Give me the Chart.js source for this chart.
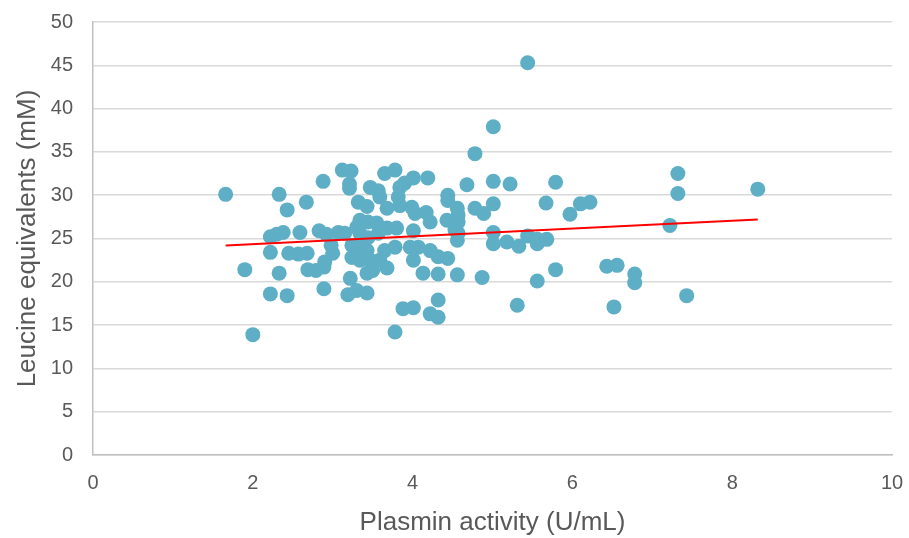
<!DOCTYPE html>
<html lang="en">
<head>
<meta charset="UTF-8">
<title>Plasmin activity vs leucine equivalents</title>
<script src="https://cdn.jsdelivr.net/npm/chart.js@4.4.1/dist/chart.umd.min.js"></script>
<style>
    body{
        margin: 0;
        background: white;
    }
    .divGrafico{
        width: 909px;
        height: 538px;
        position: relative;
    }
</style>
</head>
<body>
<div class="divGrafico">
    <canvas id="grafico"></canvas>
</div>
<script>
// plasmin activity (U/mL) and leucine equivalents (mM), one pair per sample
const plasmin = [
    1.66, 1.90, 2.00, 2.22, 2.22, 2.22, 2.30, 2.33, 2.33, 2.38,
    2.43, 2.43, 2.45, 2.57, 2.59, 2.67, 2.68, 2.69, 2.79, 2.83,
    2.88, 2.89, 2.89, 2.90, 2.92, 2.98, 3.00, 3.07, 3.12, 3.15,
    3.19, 3.21, 3.21, 3.23, 3.22, 3.24, 3.24, 3.30, 3.30, 3.32,
    3.34, 3.34, 3.34, 3.34, 3.43, 3.44, 3.44, 3.43, 3.43, 3.43,
    3.47, 3.47, 3.50, 3.55, 3.57, 3.57, 3.59, 3.59, 3.65, 3.65,
    3.68, 3.68, 3.68, 3.78, 3.78, 3.78, 3.80, 3.82, 3.84, 3.84,
    3.88, 3.90, 3.97, 3.99, 4.01, 4.01, 4.01, 4.01, 4.03, 4.07,
    4.13, 4.17, 4.19, 4.22, 4.22, 4.22, 4.32, 4.32, 4.32, 4.32,
    4.44, 4.44, 4.43, 4.44, 4.56, 4.57, 4.57, 4.53, 4.57, 4.56,
    4.56, 4.68, 4.78, 4.78, 4.87, 4.89, 5.01, 5.01, 5.01, 5.01,
    5.01, 5.18, 5.22, 5.31, 5.33, 5.44, 5.44, 5.56, 5.56, 5.56,
    5.67, 5.68, 5.79, 5.79, 5.97, 6.10, 6.22, 6.43, 6.56, 6.52,
    6.78, 6.78, 7.22, 7.32, 7.32, 7.43, 8.32
];
const leucine = [
    30.1, 21.4, 13.9, 25.2, 23.4, 18.6, 25.5, 30.1, 21.0, 25.7,
    28.3, 18.4, 23.3, 23.2, 25.7, 29.2, 23.3, 21.4, 21.3, 25.9,
    31.6, 21.7, 19.2, 22.3, 25.5, 24.2, 23.3, 25.7, 32.9, 25.6,
    18.5, 31.3, 30.8, 32.8, 20.4, 24.2, 22.8, 26.3, 19.0, 29.2,
    27.1, 25.6, 24.0, 22.5, 28.7, 26.9, 25.1, 23.6, 21.0, 18.7,
    30.9, 22.5, 21.3, 26.8, 30.5, 25.6, 29.8, 22.5, 32.5, 23.6,
    28.5, 26.2, 21.6, 32.9, 24.0, 14.2, 26.2, 29.8, 30.9, 28.8,
    16.9, 31.4, 24.0, 28.6, 32.0, 25.9, 22.5, 17.0, 27.9, 24.0,
    21.0, 28.0, 32.0, 26.9, 23.6, 16.3, 22.9, 20.9, 17.9, 15.9,
    30.0, 29.4, 27.1, 22.7, 28.5, 27.7, 26.9, 26.0, 25.6, 24.8,
    20.8, 31.2, 34.8, 28.5, 20.5, 27.9, 37.9, 31.6, 29.0, 25.7,
    24.4, 24.6, 31.3, 17.3, 24.1, 45.3, 25.3, 24.4, 24.9, 20.1,
    29.1, 24.9, 31.5, 21.4, 27.8, 29.0, 29.2, 21.8, 21.9, 17.1,
    20.9, 19.9, 26.5, 32.5, 30.2, 18.4, 30.7
];

// linear trendline at its two ends
const trendX = [1.66, 8.32];
const trendY = [24.2, 27.2];

const xTicks = [0, 2, 4, 6, 8, 10];
const yTicks = [0, 5, 10, 15, 20, 25, 30, 35, 40, 45, 50];

const pontos = plasmin.map((x, i) => ({x: x, y: leucine[i]}));
const tendencia = trendX.map((x, i) => ({x: x, y: trendY[i]}));

const fonte = 'Liberation Sans, Arial, sans-serif';
const cinza = '#595959';

let ctx = document.getElementById('grafico');

let grafico = new Chart(ctx, {
    type: 'scatter',
    data: {
        datasets: [{
            type: 'line',
            data: tendencia,
            borderColor: '#ff0000',
            borderWidth: 2,
            pointRadius: 0,
            fill: false
        }, {
            data: pontos,
            backgroundColor: '#5eafc6',
            borderWidth: 0,
            pointRadius: 7.5,
            pointHoverRadius: 7.5
        }]
    },
    options: {
        responsive: true,
        maintainAspectRatio: false,
        animation: false,
        layout: {
            padding: {left: 0, right: 17, top: 22, bottom: 0}
        },
        plugins: {
            legend: {display: false},
            tooltip: {enabled: false}
        },
        scales: {
            x: {
                type: 'linear',
                min: 0,
                max: 10,
                afterBuildTicks: (s) => { s.ticks = xTicks.map(v => ({value: v})); },
                afterFit: (s) => { s.height = 83; },
                // invisible vertical lines, the tick length only moves the labels down
                grid: {display: true, color: 'transparent', drawTicks: true, tickLength: 13, tickColor: 'transparent'},
                border: {display: true, color: '#bfbfbf', width: 1.5},
                ticks: {
                    color: cinza,
                    padding: 3,
                    font: {family: fonte, size: 20}
                },
                title: {
                    display: true,
                    text: 'Plasmin activity (U/mL)',
                    color: cinza,
                    padding: {top: 0, bottom: 0},
                    font: {family: fonte, size: 26}
                }
            },
            y: {
                type: 'linear',
                min: 0,
                max: 50,
                afterBuildTicks: (s) => { s.ticks = yTicks.map(v => ({value: v})); },
                afterFit: (s) => { s.width = 93; },
                grid: {color: '#d9d9d9', lineWidth: 1.5, drawTicks: true, tickLength: 17, tickColor: 'transparent'},
                border: {display: true, color: '#bfbfbf', width: 1.5},
                ticks: {
                    color: cinza,
                    padding: 3,
                    font: {family: fonte, size: 20}
                },
                title: {
                    display: true,
                    text: 'Leucine equivalents (mM)',
                    color: cinza,
                    padding: {top: 12, bottom: 0},
                    font: {family: fonte, size: 26}
                }
            }
        }
    }
});
</script>
</body>
</html>
